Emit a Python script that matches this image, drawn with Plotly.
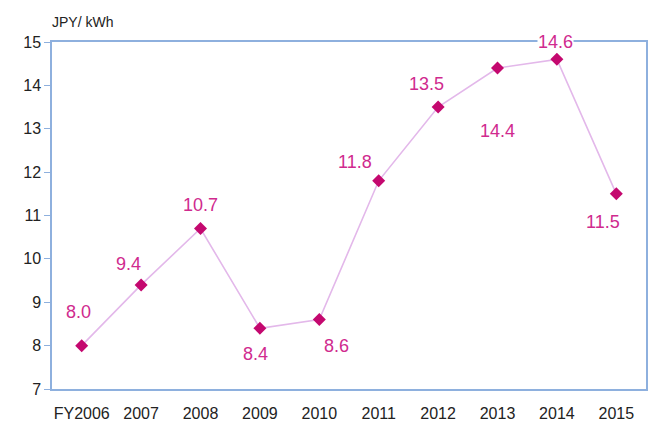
import plotly.graph_objects as go

# Fiscal years and unit price (JPY/kWh)
years = ["FY2006", "2007", "2008", "2009", "2010", "2011", "2012", "2013", "2014", "2015"]
prices = [8.0, 9.4, 10.7, 8.4, 8.6, 11.8, 13.5, 14.4, 14.6, 11.5]
y_ticks = [7, 8, 9, 10, 11, 12, 13, 14, 15]

# Pixel offsets for each value label relative to its marker (x right, y up)
label_dx = [-3, -13, 0, -4, 17, -24, -12, 0, -1, -13]
label_dy = [34, 21, 24, -26, -26, 19, 23, -63, 17, -28]

axis_blue = "#8eb0de"
marker_col = "#c4086f"
label_col = "#d02a8e"
line_col = "#e3b8ea"

fig = go.Figure()
fig.add_trace(go.Scatter(
    x=years, y=prices, mode="lines+markers",
    line=dict(color=line_col, width=1.6),
    marker=dict(symbol="diamond", size=10, color=marker_col),
    hoverinfo="x+y", showlegend=False,
))

# Category axes take the category index for annotation positions
for i, (v, dx, dy) in enumerate(zip(prices, label_dx, label_dy)):
    fig.add_annotation(
        x=i, y=v, text=f"{v:.1f}", showarrow=False,
        xshift=dx, yshift=dy, bgcolor="white", borderpad=0,
        font=dict(family="Liberation Sans, Arial, sans-serif", size=18, color=label_col),
    )

fig.add_annotation(
    xref="paper", yref="paper", x=0, y=1, xanchor="left", yanchor="bottom",
    yshift=10, xshift=-2, text="JPY/ kWh", showarrow=False,
    font=dict(family="Liberation Sans, Arial, sans-serif", size=14, color="#222222"),
)

fig.update_layout(
    width=654, height=423,
    margin=dict(l=52, r=8, t=42, b=34),
    paper_bgcolor="white", plot_bgcolor="white",
    font=dict(family="Liberation Sans, Arial, sans-serif", size=16, color="#222222"),
    xaxis=dict(
        type="category", range=[-0.5, len(years) - 0.5], automargin=False,
        showgrid=False, zeroline=False,
        showline=True, linecolor=axis_blue, linewidth=1.5, mirror=True,
        ticks="outside", ticklen=9, tickcolor="rgba(0,0,0,0)",
        tickfont=dict(size=16, color="#222222"),
    ),
    yaxis=dict(
        range=[7, 15], tickvals=y_ticks, automargin=False,
        showgrid=False, zeroline=False,
        showline=True, linecolor=axis_blue, linewidth=1.5, mirror=True,
        ticks="outside", ticklen=6, tickcolor=axis_blue,
        tickfont=dict(size=16, color="#222222"),
    ),
)

fig.write_html("out.html")
